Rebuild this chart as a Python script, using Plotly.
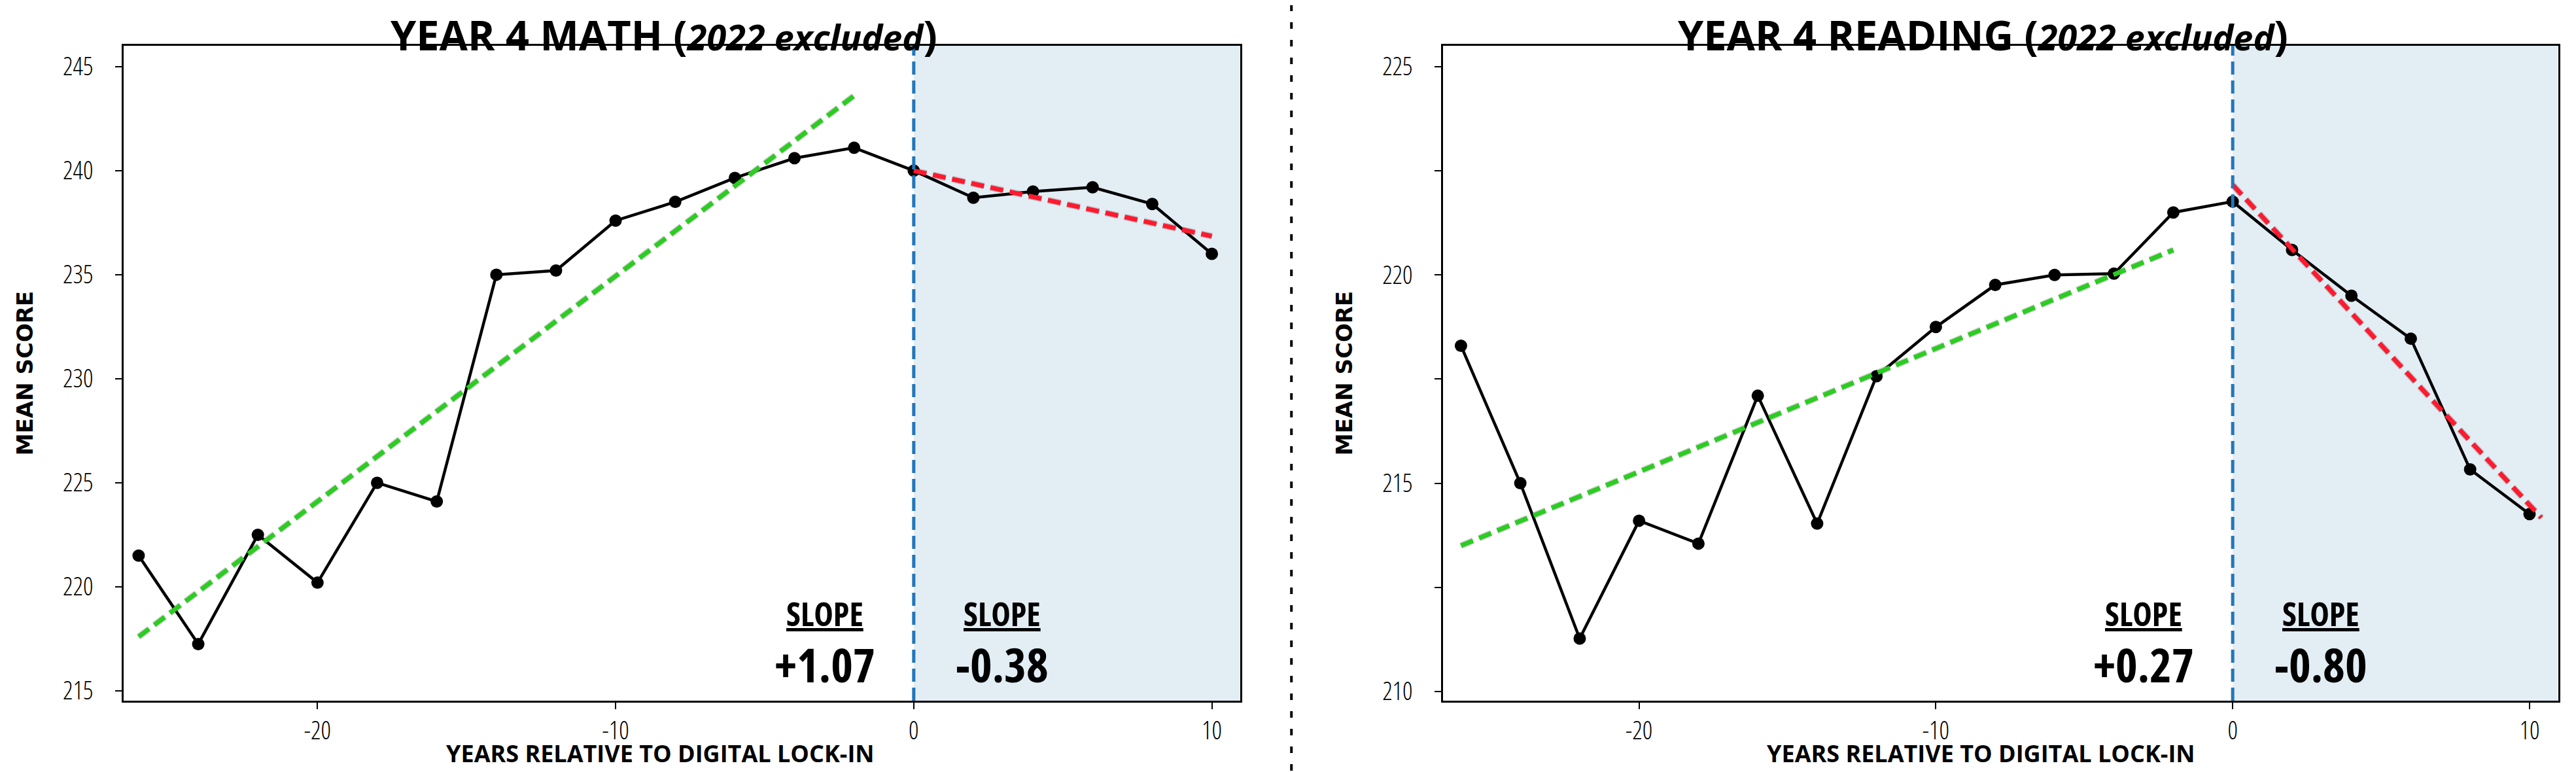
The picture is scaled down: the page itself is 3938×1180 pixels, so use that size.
import plotly.graph_objects as go

# years relative to digital lock-in
years = [-26, -24, -22, -20, -18, -16, -14, -12, -10, -8, -6, -4, -2, 0, 2, 4, 6, 8, 10]

math_scores = [221.5, 217.25, 222.5, 220.2, 225.0, 224.1, 235.0, 235.2, 237.6, 238.5,
               239.65, 240.6, 241.1, 240.0, 238.7, 239.0, 239.2, 238.4, 236.0]
reading_scores = [218.3, 215.0, 211.27, 214.1, 213.55, 217.1, 214.03, 217.57, 218.75, 219.76,
                  220.0, 220.03, 221.5, 221.76, 220.6, 219.5, 218.47, 215.33, 214.26]

# fitted trend lines (end points)
pre_x = [-26, -2]
math_pre_fit = [217.6, 243.6]
reading_pre_fit = [213.5, 220.6]
post_x = [0, 10]
math_post_fit = [240.0, 236.85]
reading_post_x = [0, 10.4]
reading_post_fit = [222.16, 214.17]

math_slopes = ["+1.07", "-0.38"]
reading_slopes = ["+0.27", "-0.80"]

math_ticks = [215, 220, 225, 230, 235, 240, 245]
math_ticktext = ["215", "220", "225", "230", "235", "240", "245"]
reading_ticks = [210, 212.5, 215, 217.5, 220, 222.5, 225]
reading_ticktext = ["210", "", "215", "", "220", "", "225"]

x_ticks = [-20, -10, 0, 10]
x_ticktext = ["-20", "-10", "0", "10"]

COND = "Open Sans"   # narrowed with font-stretch below
WIDE = "DejaVu Sans, Verdana, sans-serif"
GREEN = "#2ccc22"
RED = "#ff1a2e"
BLUE = "#2377b9"


def narrow(s, pct="75%"):
    return "<span style='font-stretch:%s'>%s</span>" % (pct, s) if s else s


def slope_text(value):
    return ("<span style='font-stretch:75%;font-size:50px;text-decoration:underline;"
            "text-decoration-thickness:5px;text-underline-offset:9px'>SLOPE</span><br>"
            "<span style='font-stretch:75%;font-size:72px'>" + value + "</span>")


fig = go.Figure()

panels = [
    ("x", "y", math_scores, math_pre_fit, post_x, math_post_fit, math_slopes,
     "YEAR 4 MATH", 0.2557, 0.2544),
    ("x2", "y2", reading_scores, reading_pre_fit, reading_post_x, reading_post_fit,
     reading_slopes, "YEAR 4 READING", 0.7679, 0.7669),
]

for xa, ya, scores, pre_fit, px, post_fit, slopes, name, title_x, xlab_x in panels:
    fig.add_trace(go.Scatter(
        x=years, y=scores, xaxis=xa, yaxis=ya, mode="lines+markers",
        line=dict(color="black", width=4.5), marker=dict(color="black", size=19),
        showlegend=False))
    # shadow + dashed fits
    fig.add_trace(go.Scatter(
        x=pre_x, y=pre_fit, xaxis=xa, yaxis=ya, mode="lines",
        line=dict(color="rgba(0,0,0,0.18)", width=10, dash="20px,10px"),
        showlegend=False))
    fig.add_trace(go.Scatter(
        x=pre_x, y=pre_fit, xaxis=xa, yaxis=ya, mode="lines",
        line=dict(color=GREEN, width=7, dash="20px,10px"), showlegend=False))
    fig.add_trace(go.Scatter(
        x=px, y=post_fit, xaxis=xa, yaxis=ya, mode="lines",
        line=dict(color="rgba(0,0,0,0.18)", width=10, dash="20px,10px"),
        showlegend=False))
    fig.add_trace(go.Scatter(
        x=px, y=post_fit, xaxis=xa, yaxis=ya, mode="lines",
        line=dict(color=RED, width=7, dash="20px,10px"), showlegend=False))

    # post lock-in shading and the lock-in line
    fig.add_shape(type="rect", xref=xa, yref=ya + " domain", x0=0, x1=10.95, y0=0, y1=1,
                  fillcolor="#e2edf4", line_width=0, layer="below")
    fig.add_shape(type="line", xref=xa, yref=ya + " domain", x0=0, x1=0, y0=0, y1=1,
                  line=dict(color=BLUE, width=5, dash="20px,9px"))

    # slope labels either side of the lock-in line
    for s, shift in [(slopes[0], -136), (slopes[1], 135)]:
        fig.add_annotation(xref=xa, yref=ya + " domain", x=0, y=0.087, text=slope_text(s),
                           showarrow=False, xanchor="center", yanchor="middle", align="center",
                           xshift=shift,
                           font=dict(family=COND, size=66, color="black", weight="bold"))

    # panel title
    fig.add_annotation(xref="paper", yref="paper", x=title_x, y=1.0, xanchor="center",
                       yanchor="top",
                       text=narrow(name + " (<i><span style='font-size:54px'>2022 excluded"
                                   "</span></i>)", "96%"),
                       showarrow=False, font=dict(family=COND, size=63,
                                                  color="black", weight="bold"))

    # x axis label
    fig.add_annotation(xref="paper", yref="paper", x=xlab_x, y=0.0, xanchor="center",
                       yanchor="bottom",
                       text="YEARS RELATIVE TO DIGITAL LOCK-IN", showarrow=False,
                       font=dict(family=COND, size=36, color="black", weight="bold"))

axis_common = dict(
    showline=True, linecolor="black", linewidth=3, mirror=True,
    ticks="outside", ticklen=10, tickwidth=2, tickcolor="black",
    showgrid=False, zeroline=False,
    tickfont=dict(family=COND, size=38, color="black", weight=300),
)
ytitle = dict(text="<b>MEAN SCORE</b>", font=dict(family=WIDE, size=34, color="black"),
              standoff=36)

fig.update_layout(
    width=3938, height=1180,
    margin=dict(l=0, r=0, t=0, b=0),
    paper_bgcolor="white", plot_bgcolor="white",
    xaxis=dict(domain=[0.046, 0.4794], range=[-26.5, 10.95], tickvals=x_ticks,
               ticktext=[narrow(t, "85%") for t in x_ticktext], anchor="y", **axis_common),
    yaxis=dict(domain=[0.0915, 0.947], range=[214.53, 246], tickvals=math_ticks,
               ticktext=[narrow(t, "85%") for t in math_ticktext], anchor="x", title=ytitle,
               ticklabelstandoff=26, **axis_common),
    xaxis2=dict(domain=[0.5582, 0.9911], range=[-26.6, 10.97], tickvals=x_ticks,
                ticktext=[narrow(t, "85%") for t in x_ticktext], anchor="y2", **axis_common),
    yaxis2=dict(domain=[0.0915, 0.947], range=[209.78, 225.5], tickvals=reading_ticks,
                ticktext=[narrow(t, "85%") for t in reading_ticktext], anchor="x2",
                title=ytitle, ticklabelstandoff=26, **axis_common),
)

# divider between the two panels
fig.add_shape(type="line", xref="paper", yref="paper", x0=0.4993, x1=0.4993, y0=0, y1=1,
              line=dict(color="black", width=4, dash="10px,17px"))

fig.write_html("out.html")
